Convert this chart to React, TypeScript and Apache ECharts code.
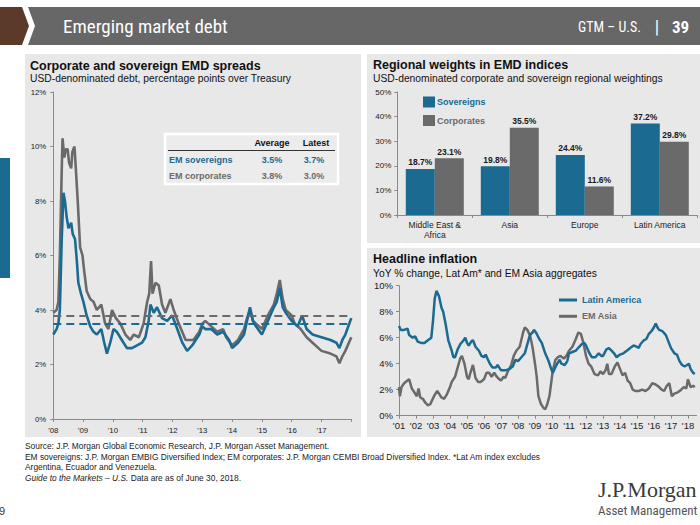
import React, { useEffect, useRef } from 'react';
import * as echarts from 'echarts';

// ---------- Data: Corporate and sovereign EMD spreads (%) ----------
const corpYears = [2008.0, 2008.11, 2008.17, 2008.22, 2008.28, 2008.31, 2008.37, 2008.42, 2008.48, 2008.53,
  2008.6, 2008.64, 2008.71, 2008.75, 2008.82, 2008.9, 2008.98, 2009.04, 2009.12, 2009.24,
  2009.35, 2009.46, 2009.61, 2009.74, 2009.85, 2009.97, 2010.1, 2010.25, 2010.42, 2010.58,
  2010.7, 2010.87, 2011.03, 2011.15, 2011.22, 2011.28, 2011.33, 2011.43, 2011.54, 2011.65,
  2011.76, 2011.93, 2012.04, 2012.21, 2012.44, 2012.7, 2012.9, 2013.0, 2013.1, 2013.3,
  2013.5, 2013.7, 2013.8, 2014.0, 2014.2, 2014.4, 2014.5, 2014.6, 2014.7, 2014.8,
  2015.0, 2015.2, 2015.4, 2015.5, 2015.6, 2015.7, 2015.8, 2016.0, 2016.1, 2016.3,
  2016.5, 2016.7, 2017.0, 2017.3, 2017.5, 2017.6, 2017.7, 2017.8, 2018.0];
const corpValues = [3.9, 4.0, 4.3, 6.0, 9.0, 10.3, 9.6, 9.9, 9.9, 9.4,
  9.2, 9.8, 10.0, 9.3, 8.0, 6.3, 6.0, 5.4, 4.7, 4.4,
  4.3, 4.0, 4.2, 3.5, 3.3, 4.0, 3.7, 3.5, 3.1, 2.9,
  3.1, 3.0, 3.5, 4.3, 4.6, 5.8, 4.6, 5.0, 4.9, 4.2,
  3.9, 4.4, 4.0, 3.5, 2.9, 2.9, 3.2, 3.5, 3.6, 3.4,
  3.2, 3.3, 3.0, 2.7, 2.9, 3.3, 3.7, 4.0, 3.6, 3.5,
  3.3, 3.8, 4.2, 4.6, 5.1, 4.4, 4.0, 3.8, 3.5, 3.3,
  3.0, 2.8, 2.5, 2.4, 2.3, 2.05, 2.3, 2.5, 3.0];

const sovYears = [2008.0, 2008.11, 2008.17, 2008.22, 2008.28, 2008.34, 2008.39, 2008.45, 2008.51, 2008.6,
  2008.65, 2008.73, 2008.79, 2008.84, 2008.93, 2009.01, 2009.12, 2009.24, 2009.35, 2009.46,
  2009.61, 2009.71, 2009.8, 2009.91, 2010.02, 2010.13, 2010.3, 2010.47, 2010.64, 2010.81,
  2010.98, 2011.09, 2011.2, 2011.26, 2011.37, 2011.48, 2011.65, 2011.82, 2011.99, 2012.16,
  2012.33, 2012.49, 2012.66, 2012.9, 2013.0, 2013.1, 2013.3, 2013.5, 2013.7, 2013.9,
  2014.0, 2014.2, 2014.4, 2014.5, 2014.6, 2014.7, 2014.8, 2015.0, 2015.2, 2015.4,
  2015.5, 2015.6, 2015.7, 2015.8, 2016.0, 2016.2, 2016.35, 2016.5, 2016.7, 2017.0,
  2017.3, 2017.5, 2017.6, 2017.7, 2017.8, 2018.0];
const sovValues = [3.1, 3.3, 3.5, 4.0, 6.5, 8.3, 8.0, 7.4, 7.0, 7.2,
  6.8, 6.6, 5.8, 5.0, 4.6, 4.3, 3.8, 3.4, 3.2, 3.1,
  3.3, 2.8, 2.4, 2.8, 3.3, 3.2, 2.9, 2.6, 2.6, 2.7,
  2.8, 3.0, 3.6, 4.2, 3.9, 4.1, 3.7, 3.6, 3.8, 3.3,
  2.8, 2.5, 2.7, 3.1, 3.4, 3.3, 3.3, 3.1, 3.2, 2.9,
  2.6, 2.8, 3.1, 3.6, 4.1, 3.6, 3.4, 3.1, 3.6, 4.1,
  4.3, 4.8, 4.1, 3.9, 3.6, 3.4, 3.8, 3.3, 3.1, 3.0,
  2.9, 2.8, 2.6, 2.9, 3.1, 3.7];

const sovAverage = 3.5;
const corpAverage = 3.8;
const sovLatest = 3.7;
const corpLatest = 3.0;
const spreadTicks = [0, 2, 4, 6, 8, 10, 12];

// ---------- Data: Regional weights in EMD indices (%) ----------
const regions = ['Middle East &\nAfrica', 'Asia', 'Europe', 'Latin America'];
const sovereignWeights = [18.7, 19.8, 24.4, 37.2];
const corporateWeights = [23.1, 35.5, 11.6, 29.8];

// ---------- Data: Headline inflation (YoY %) ----------
const latamYears = [2001.0, 2001.1, 2001.3, 2001.5, 2001.6, 2001.8, 2001.95, 2002.1, 2002.3, 2002.5,
  2002.7, 2002.9, 2003.0, 2003.1, 2003.2, 2003.35, 2003.5, 2003.6, 2003.75, 2003.9,
  2004.1, 2004.2, 2004.3, 2004.45, 2004.6, 2004.8, 2004.9, 2005.0, 2005.1, 2005.25,
  2005.35, 2005.5, 2005.7, 2005.85, 2006.0, 2006.1, 2006.2, 2006.35, 2006.5, 2006.7,
  2006.8, 2006.9, 2007.0, 2007.3, 2007.5, 2007.7, 2007.85, 2008.0, 2008.2, 2008.4,
  2008.55, 2008.7, 2008.85, 2008.95, 2009.1, 2009.25, 2009.4, 2009.5, 2009.6, 2009.8,
  2009.95, 2010.05, 2010.15, 2010.3, 2010.45, 2010.55, 2010.75, 2010.9, 2011.0, 2011.2,
  2011.4, 2011.6, 2011.75, 2011.9, 2012.0, 2012.2, 2012.35, 2012.55, 2012.75, 2012.9,
  2013.0, 2013.2, 2013.35, 2013.5, 2013.65, 2013.8, 2014.0, 2014.2, 2014.4, 2014.6,
  2014.8, 2015.0, 2015.1, 2015.2, 2015.4, 2015.55, 2015.7, 2015.85, 2016.0, 2016.1,
  2016.2, 2016.3, 2016.5, 2016.7, 2016.85, 2017.0, 2017.2, 2017.35, 2017.5, 2017.65,
  2017.8, 2017.95, 2018.05, 2018.15, 2018.3, 2018.4];
const latamValues = [6.9, 6.6, 6.6, 6.7, 6.2, 6.0, 6.1, 5.7, 5.6, 5.6,
  5.8, 6.0, 7.3, 9.0, 9.6, 9.2, 8.3, 8.0, 7.0, 5.8,
  5.0, 4.5, 4.5, 5.1, 5.5, 5.8, 6.0, 5.6, 5.4, 5.7,
  5.8, 5.3, 5.0, 4.6, 4.5, 4.7, 4.4, 4.0, 3.7, 3.7,
  3.9, 3.7, 3.5, 3.5, 3.6, 3.8, 4.3, 4.2, 4.5, 4.8,
  5.5, 6.2, 6.4, 6.6, 6.3, 5.9, 5.6, 5.2, 4.8, 4.2,
  3.6, 3.3, 3.6, 4.0, 4.3, 4.0, 3.9, 4.2, 4.8, 4.9,
  5.0, 5.3, 5.5, 5.6, 5.4, 4.8, 4.5, 4.5, 4.8, 4.6,
  4.6, 5.1, 5.2, 5.0, 4.8, 4.5, 4.7, 4.8, 5.0, 5.2,
  5.4, 5.3, 5.2, 5.5, 5.8, 5.9, 6.3, 6.5, 6.8, 7.1,
  6.8, 6.6, 6.5, 6.2, 5.7, 5.2, 4.8, 4.7, 4.2, 3.9,
  3.8, 3.9, 4.0, 3.6, 3.3, 3.2];

const asiaYears = [2001.0, 2001.05, 2001.15, 2001.3, 2001.5, 2001.6, 2001.75, 2001.9, 2002.05, 2002.15,
  2002.25, 2002.4, 2002.55, 2002.7, 2002.85, 2002.95, 2003.1, 2003.25, 2003.4, 2003.5,
  2003.65, 2003.8, 2004.0, 2004.1, 2004.3, 2004.45, 2004.6, 2004.7, 2004.85, 2005.0,
  2005.1, 2005.2, 2005.35, 2005.5, 2005.65, 2005.8, 2006.0, 2006.15, 2006.3, 2006.45,
  2006.6, 2006.75, 2006.9, 2007.0, 2007.15, 2007.25, 2007.4, 2007.6, 2007.75, 2007.9,
  2008.1, 2008.3, 2008.4, 2008.55, 2008.7, 2008.85, 2009.0, 2009.1, 2009.2, 2009.35,
  2009.5, 2009.6, 2009.7, 2009.85, 2009.95, 2010.05, 2010.2, 2010.35, 2010.5, 2010.7,
  2010.85, 2011.0, 2011.2, 2011.4, 2011.55, 2011.7, 2011.85, 2012.0, 2012.15, 2012.3,
  2012.5, 2012.7, 2012.85, 2013.0, 2013.15, 2013.25, 2013.35, 2013.5, 2013.7, 2013.85,
  2014.0, 2014.15, 2014.3, 2014.45, 2014.6, 2014.75, 2014.9, 2015.1, 2015.3, 2015.5,
  2015.7, 2015.9, 2016.1, 2016.3, 2016.45, 2016.6, 2016.75, 2016.9, 2017.05, 2017.2,
  2017.4, 2017.6, 2017.75, 2017.9, 2018.0, 2018.15, 2018.3, 2018.4];
const asiaValues = [2.2, 1.5, 2.2, 2.5, 2.7, 2.8, 2.1, 1.8, 1.5, 2.1,
  1.4, 1.3, 1.0, 0.8, 0.9, 1.2, 1.6, 1.9, 1.6, 1.4,
  1.3, 1.6, 2.2, 2.6, 3.0, 3.7, 4.4, 4.6, 4.0, 3.0,
  2.8, 3.3, 3.9, 2.9, 2.6, 2.6, 2.8, 3.3, 3.3, 3.0,
  3.3, 3.0, 2.8, 2.7, 3.0, 2.9, 3.4, 3.9, 4.6, 5.0,
  5.3, 6.4, 6.8, 6.6, 6.2, 5.3, 4.0, 3.0, 1.5, 0.9,
  0.6, 0.5, 0.8, 1.5, 2.5, 3.5, 4.3, 4.5, 4.6, 4.4,
  4.6, 5.0, 5.3, 5.9, 6.4, 6.3, 5.6, 4.6, 4.0, 3.8,
  3.2, 3.1, 3.4, 3.2, 3.5, 4.0, 3.2, 3.2, 3.8, 4.1,
  3.6, 3.1, 3.3, 2.7, 2.5, 2.0, 1.9, 1.9, 2.0, 1.9,
  2.1, 2.5, 2.4, 2.2, 2.0, 1.9, 2.3, 2.5, 1.5, 1.7,
  1.8, 2.0, 2.2, 2.1, 2.8, 2.2, 2.3, 2.2];

const footnotes = [
  'Source: J.P. Morgan Global Economic Research, J.P. Morgan Asset Management.',
  'EM sovereigns: J.P. Morgan EMBIG Diversified Index; EM corporates: J.P. Morgan CEMBI Broad Diversified Index. *Lat Am index excludes',
  'Argentina, Ecuador and Venezuela.',
];

// ---------- Styling ----------
const TEAL = '#1b6a91';
const GRAY = '#6a6a6a';
const AXIS = '#8a8a8a';
const PANEL = '#e8e8e8';
const FF = '"Liberation Sans", Arial, Helvetica, sans-serif';
const NARROW = '"Liberation Sans Narrow", "Roboto Condensed", "Liberation Sans", sans-serif';

const zip = (xs: number[], ys: number[]) => xs.map((x, i) => [x, ys[i]]);
const yearLabel = (v: number) => (Number.isInteger(v) ? "'" + String(v).slice(2) : '');

const txt = (x: number, y: number, text: string, extra: any = {}) => ({
  type: 'text',
  x,
  y,
  z: 20,
  style: {
    text,
    fontFamily: FF,
    fontSize: 10,
    fill: '#111',
    textAlign: 'left',
    textVerticalAlign: 'middle',
    ...extra,
  },
});

export default function App() {
  const ref = useRef<HTMLDivElement>(null);

  useEffect(() => {
    const chart = echarts.init(ref.current!, null, { renderer: 'svg' });

    const graphics: any[] = [
      // header
      { type: 'polygon', shape: { points: [[0, 7], [22, 7], [29, 26], [22, 45], [0, 45]] }, style: { fill: '#5b3a29' } },
      { type: 'polygon', shape: { points: [[28, 7], [700, 7], [700, 45], [28, 45], [35, 26]] }, style: { fill: '#676767' } },
      txt(63, 26.5, 'Emerging market debt', { fontFamily: NARROW, fontSize: 19, fill: '#fff' }),
      txt(641, 27, 'GTM – U.S.', { fontFamily: NARROW, fontSize: 14, fill: '#fff', textAlign: 'right' }),
      txt(657, 26, '|', { fontFamily: NARROW, fontSize: 18, fill: '#fff', textAlign: 'center' }),
      txt(672, 26.5, '39', { fontFamily: NARROW, fontSize: 17, fontWeight: 'bold', fill: '#fff' }),
      // side marker
      { type: 'rect', shape: { x: 0, y: 158, width: 10, height: 120 }, style: { fill: TEAL } },
      // panels
      { type: 'rect', shape: { x: 25, y: 54, width: 336, height: 383 }, style: { fill: PANEL } },
      { type: 'rect', shape: { x: 367, y: 54, width: 333, height: 189 }, style: { fill: PANEL } },
      { type: 'rect', shape: { x: 367, y: 248, width: 333, height: 189 }, style: { fill: PANEL } },
      // panel titles
      txt(30, 65.5, 'Corporate and sovereign EMD spreads', { fontSize: 12.5, fontWeight: 'bold' }),
      txt(30, 78.5, 'USD-denominated debt, percentage points over Treasury', { fontSize: 10.3 }),
      txt(373, 65, 'Regional weights in EMD indices', { fontSize: 12.5, fontWeight: 'bold' }),
      txt(373, 78, 'USD-denominated corporate and sovereign regional weightings', { fontSize: 10.3 }),
      txt(373, 259, 'Headline inflation', { fontSize: 12.5, fontWeight: 'bold' }),
      txt(373, 273, 'YoY % change, Lat Am* and EM Asia aggregates', { fontSize: 10.3 }),
      // table box
      { type: 'rect', z: 15, shape: { x: 165, y: 134, width: 173, height: 50 }, style: { fill: '#ececec', stroke: '#ffffff', lineWidth: 2.5 } },
      { type: 'line', z: 16, shape: { x1: 168, y1: 150.5, x2: 335, y2: 150.5 }, style: { stroke: '#333', lineWidth: 1 } },
      txt(272, 143, 'Average', { fontSize: 9, fontWeight: 'bold', textAlign: 'center' }),
      txt(316, 143, 'Latest', { fontSize: 9, fontWeight: 'bold', textAlign: 'center' }),
      txt(169, 159.5, 'EM sovereigns', { fontSize: 9, fontWeight: 'bold', fill: TEAL }),
      txt(272, 159.5, sovAverage.toFixed(1) + '%', { fontSize: 9, fontWeight: 'bold', fill: TEAL, textAlign: 'center' }),
      txt(314, 159.5, sovLatest.toFixed(1) + '%', { fontSize: 9, fontWeight: 'bold', fill: TEAL, textAlign: 'center' }),
      txt(169, 175.5, 'EM corporates', { fontSize: 9, fontWeight: 'bold', fill: GRAY }),
      txt(272, 175.5, corpAverage.toFixed(1) + '%', { fontSize: 9, fontWeight: 'bold', fill: GRAY, textAlign: 'center' }),
      txt(314, 175.5, corpLatest.toFixed(1) + '%', { fontSize: 9, fontWeight: 'bold', fill: GRAY, textAlign: 'center' }),
      // footnotes
      ...footnotes.map((t, i) => txt(25, 446 + i * 10.6, t, { fontSize: 8.4, fill: '#222' })),
      {
        type: 'text', x: 25, y: 477.8, z: 20,
        style: {
          text: '{i|Guide to the Markets – U.S.} Data are as of June 30, 2018.',
          fontFamily: FF, fontSize: 8.4, fill: '#222', textVerticalAlign: 'middle',
          rich: { i: { fontStyle: 'italic', fontFamily: FF, fontSize: 8.4, fill: '#222' } },
        },
      },
      // page number and logo
      txt(-1, 511, '9', { fontSize: 11, fill: '#333' }),
      txt(598, 489, 'J.P.Morgan', { fontFamily: '"Liberation Serif", "DejaVu Serif", serif', fontSize: 22, fill: '#3a3a3a' }),
      txt(598, 510.5, 'Asset Management', { fontFamily: NARROW, fontSize: 13, fill: '#555' }),
    ];

    const axisLine = { show: true, lineStyle: { color: AXIS, width: 1 } };
    const axisTick = { show: true, length: 3, lineStyle: { color: AXIS } };

    const option: any = {
      animation: false,
      backgroundColor: '#ffffff',
      textStyle: { fontFamily: FF },
      graphic: { elements: graphics },
      grid: [
        { left: 53.3, top: 92, width: 298, height: 327, containLabel: false },
        { left: 397.3, top: 92, width: 300, height: 123, containLabel: false },
        { left: 399, top: 285.7, width: 297.5, height: 130, containLabel: false },
      ],
      xAxis: [
        {
          type: 'value', gridIndex: 0, min: 2008, max: 2018, interval: 1,
          axisLine, axisTick: { ...axisTick, length: 3 }, splitLine: { show: false },
          axisLabel: { formatter: (v: number) => (v === 2018 ? '' : yearLabel(v)), fontSize: 7.8, color: '#222', margin: 7 },
        },
        {
          type: 'category', gridIndex: 1, data: regions,
          axisLine, axisTick: { ...axisTick, length: 3, alignWithLabel: false }, splitLine: { show: false },
          axisLabel: { fontSize: 8.5, color: '#222', margin: 5, interval: 0, lineHeight: 10 },
        },
        {
          type: 'value', gridIndex: 2, min: 2001, max: 2018.5, interval: 1,
          axisLine, axisTick: { ...axisTick, length: 3 }, splitLine: { show: false },
          axisLabel: { formatter: yearLabel, fontSize: 9.5, color: '#222', margin: 5, showMaxLabel: false },
        },
      ],
      yAxis: [
        {
          type: 'value', gridIndex: 0, min: spreadTicks[0], max: spreadTicks[spreadTicks.length - 1], interval: 2,
          axisLine, axisTick, splitLine: { show: false },
          axisLabel: { formatter: '{value}%', fontSize: 7.8, color: '#222', margin: 7 },
        },
        {
          type: 'value', gridIndex: 1, min: 0, max: 50, interval: 10,
          axisLine, axisTick, splitLine: { show: false },
          axisLabel: { formatter: '{value}%', fontSize: 8, color: '#222', margin: 6 },
        },
        {
          type: 'value', gridIndex: 2, min: 0, max: 10, interval: 2,
          axisLine, axisTick, splitLine: { show: false },
          axisLabel: { formatter: '{value}%', fontSize: 9.5, color: '#222', margin: 6 },
        },
      ],
      legend: [
        {
          data: [
            { name: 'Sovereigns', textStyle: { color: TEAL } },
            { name: 'Corporates', textStyle: { color: GRAY } },
          ],
          orient: 'vertical', left: 423, top: 96.5, padding: 0, itemWidth: 12, itemHeight: 11, itemGap: 7.5,
          icon: 'rect', selectedMode: false,
          textStyle: { fontSize: 9, fontWeight: 'bold', fontFamily: FF, padding: [0, 0, 0, -3] },
        },
        {
          data: [
            { name: 'Latin America', textStyle: { color: TEAL } },
            { name: 'EM Asia', textStyle: { color: GRAY } },
          ],
          orient: 'vertical', left: 559, top: 295.5, padding: 0, itemWidth: 18, itemHeight: 3, itemGap: 7.3,
          icon: 'rect', selectedMode: false,
          textStyle: { fontSize: 9, fontWeight: 'bold', fontFamily: FF },
        },
      ],
      series: [
        {
          name: 'EM corporates', type: 'line', xAxisIndex: 0, yAxisIndex: 0,
          data: zip(corpYears, corpValues), showSymbol: false, symbol: 'none',
          lineStyle: { color: GRAY, width: 2.6 }, itemStyle: { color: GRAY },
          markLine: {
            silent: true, symbol: 'none', label: { show: false },
            lineStyle: { color: GRAY, type: [8, 5], width: 2 },
            data: [{ yAxis: corpAverage }],
          },
        },
        {
          name: 'EM sovereigns', type: 'line', xAxisIndex: 0, yAxisIndex: 0,
          data: zip(sovYears, sovValues), showSymbol: false, symbol: 'none',
          lineStyle: { color: TEAL, width: 2.6 }, itemStyle: { color: TEAL },
          markLine: {
            silent: true, symbol: 'none', label: { show: false },
            lineStyle: { color: TEAL, type: [8, 5], width: 2 },
            data: [{ yAxis: sovAverage }],
          },
        },
        {
          name: 'Sovereigns', type: 'bar', xAxisIndex: 1, yAxisIndex: 1, data: sovereignWeights,
          barWidth: 29, barGap: '0%', itemStyle: { color: TEAL },
          label: { show: true, position: 'top', distance: 2, fontSize: 8.5, fontWeight: 'bold', color: '#1a1a1a', formatter: (p: any) => p.value.toFixed(1) + '%' },
        },
        {
          name: 'Corporates', type: 'bar', xAxisIndex: 1, yAxisIndex: 1, data: corporateWeights,
          barWidth: 29, barGap: '0%', itemStyle: { color: GRAY },
          label: { show: true, position: 'top', distance: 2, fontSize: 8.5, fontWeight: 'bold', color: '#1a1a1a', formatter: (p: any) => p.value.toFixed(1) + '%' },
        },
        {
          name: 'EM Asia', type: 'line', xAxisIndex: 2, yAxisIndex: 2,
          data: zip(asiaYears, asiaValues), showSymbol: false, symbol: 'none',
          lineStyle: { color: GRAY, width: 2.5 }, itemStyle: { color: GRAY },
        },
        {
          name: 'Latin America', type: 'line', xAxisIndex: 2, yAxisIndex: 2,
          data: zip(latamYears, latamValues), showSymbol: false, symbol: 'none',
          lineStyle: { color: TEAL, width: 2.5 }, itemStyle: { color: TEAL },
        },
      ],
    };

    chart.setOption(option);
    return () => chart.dispose();
  }, []);

  return (
    <div
      ref={ref}
      style={{ position: 'fixed', left: 0, top: 0, width: 700, height: 525, background: '#fff', overflow: 'hidden' }}
    />
  );
}
